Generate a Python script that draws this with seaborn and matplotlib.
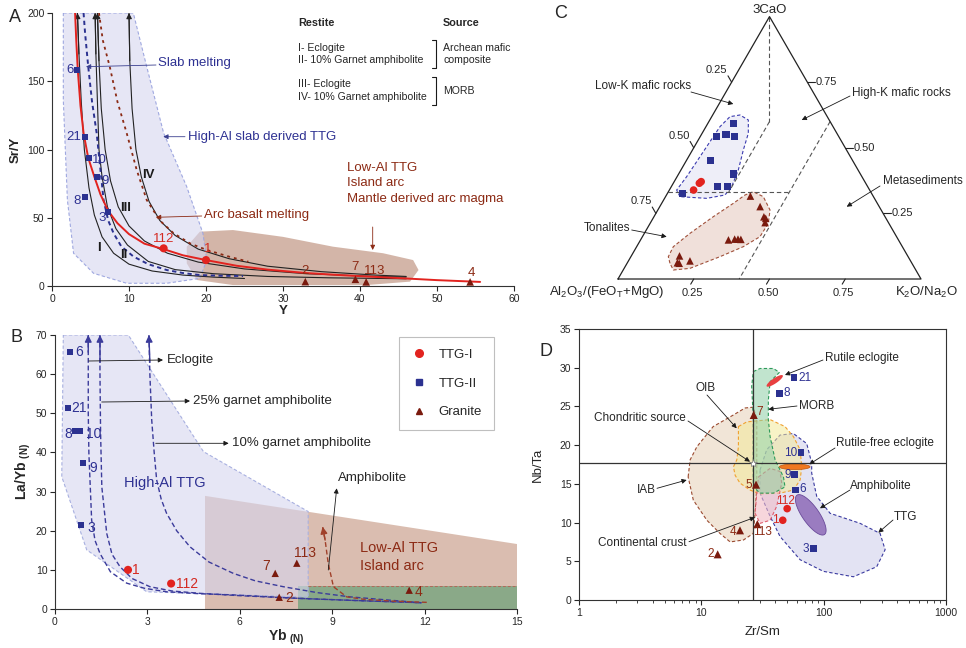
import numpy as np
import pandas as pd
import matplotlib
matplotlib.use("Agg")
import matplotlib.pyplot as plt
import seaborn as sns
from matplotlib.lines import Line2D
from matplotlib.patches import Polygon
from matplotlib.ticker import FixedLocator, LogLocator, NullFormatter

# ====================== DATA ======================
# Panel A : Sr/Y vs Y
a_ttg1_lab = ['112', '1']
a_ttg1_y = [14.5, 20.0]
a_ttg1_sry = [27.6, 19.0]
a_ttg2_lab = ['6', '21', '10', '9', '8', '3']
a_ttg2_y = [3.3, 4.3, 4.8, 5.9, 4.3, 7.3]
a_ttg2_sry = [158, 109, 94, 80, 65, 54]
a_gra_lab = ['2', '7', '113', '4']
a_gra_y = [32.9, 39.4, 40.8, 54.3]
a_gra_sry = [3.2, 4.9, 3.0, 3.0]

# Panel A model curves
curve_red_x = [3.0, 3.15, 3.35, 3.7, 4.1, 4.7, 5.5, 6.3, 7.3, 8.5, 10, 12, 14.5, 17, 20, 24, 28, 33, 38, 45, 50, 55.6]
curve_red_y = [200, 180, 158, 132, 112, 94, 80, 67, 55, 46, 38, 31, 27, 22.5, 19, 14.8, 12, 9.5, 7.8, 5.8, 4.3, 3.0]
curve_I_x = [3.3, 3.5, 3.8, 4.2, 4.8, 5.5, 6.5, 8, 10, 13, 17, 21, 25]
curve_I_y = [200, 170, 135, 100, 72, 52, 36, 24, 16, 11, 8, 6.5, 5.5]
curve_II_x = [5.6, 5.7, 5.9, 6.1, 6.5, 7.2, 8.3, 9.8, 12.5, 16, 21, 28, 36, 46]
curve_II_y = [200, 170, 135, 100, 80, 58, 42, 30, 18, 12, 9, 7, 6, 5.3]
curve_III_x = [5.9, 6.1, 6.4, 6.9, 7.6, 8.6, 10, 12, 15, 19, 25, 33, 42, 46]
curve_III_y = [200, 165, 130, 100, 77, 58, 44, 33, 24, 17.5, 12.5, 9, 7, 6.5]
curve_IV_x = [10, 10.1, 10.4, 10.9, 11.6, 12.6, 14, 16, 19, 23, 28, 35, 42, 46]
curve_IV_y = [200, 165, 130, 100, 80, 62, 48, 37, 27, 20, 14.5, 10.5, 8, 7]
curve_slab_x = [4.1, 4.3, 4.7, 5.2, 5.8, 6.2, 6.7, 7.3, 8, 9, 10.6, 12.5, 14.9, 17, 19.2, 22, 24.8]
curve_slab_y = [200, 185, 161, 135, 112, 90, 63, 48, 38.6, 29, 21.5, 16, 11.7, 9.5, 8, 7.5, 7.3]
curve_arc_x = [6.1, 6.6, 7.5, 8.5, 9.7, 11, 12.3, 14, 15.8, 18, 20.1, 23, 25.5]
curve_arc_y = [200, 180, 160.7, 135, 112, 85, 63, 48, 38.6, 31, 26.4, 21.5, 17.8]
regA_high_x = [1.47, 10.56, 12.3, 14.5, 17.5, 19.6, 20.1, 19.2, 14.9, 9.7, 5.4, 2.8, 2.0, 1.47]
regA_high_y = [200, 200, 160.7, 112, 72.7, 38.6, 19, 5.6, 2, 2, 9.3, 24, 63, 136]
regA_low_x = [17.5, 19.2, 23.5, 30, 36.5, 43, 46.9, 47.6, 46.5, 40.9, 23.5, 18.8, 17.5]
regA_low_y = [28.8, 39.8, 41, 36, 28.8, 24, 19, 11.7, 3.2, 0.7, 0.7, 4.4, 16.6]

# Panel B : La/Yb(N) vs Yb(N)
b_ttg1_lab = ['1', '112']
b_ttg1_yb = [2.37, 3.77]
b_ttg1_layb = [10.0, 6.5]
b_ttg2_lab = ['6', '21', '8', '10', '9', '3']
b_ttg2_yb = [0.49, 0.42, 0.64, 0.81, 0.92, 0.85]
b_ttg2_layb = [65.7, 51.3, 45.5, 45.5, 37.2, 21.4]
b_gra_lab = ['7', '113', '2', '4']
b_gra_yb = [7.15, 7.85, 7.28, 11.5]
b_gra_layb = [9.1, 11.7, 3.0, 4.8]
curve_ecl_x = [1.08, 1.08, 1.08, 1.10, 1.19, 1.3, 1.46, 1.8, 2.33, 2.9, 3.62, 4.7, 5.79, 7.95, 10, 11.9]
curve_ecl_y = [70, 62.6, 50, 39.8, 22.7, 17.5, 14.2, 9.5, 6.6, 5.3, 4.4, 3.9, 3.6, 2.7, 2.1, 1.6]
curve_g25_x = [1.46, 1.46, 1.48, 1.52, 1.68, 1.85, 2.11, 2.5, 3.08, 3.8, 4.71, 6, 7.95, 10, 11.9]
curve_g25_y = [70, 60, 45, 31.2, 19.3, 14, 10.8, 7.8, 5.7, 4.6, 4.0, 3.4, 2.7, 2.1, 1.6]
curve_g10_x = [3.05, 3.08, 3.14, 3.22, 3.30, 3.45, 3.62, 3.95, 4.38, 5.0, 5.79, 6.5, 7.41, 8.5, 9.58, 10.8, 11.9]
curve_g10_y = [70, 60, 48.3, 40, 33, 28, 24.5, 20, 15.9, 12, 9.1, 7.2, 5.7, 4.2, 3.1, 2.3, 1.6]
curve_amp_x = [12.07, 11, 10, 9.47, 9.04, 8.87, 8.77, 8.69]
curve_amp_y = [1.7, 2.0, 2.5, 3.1, 5.7, 11.7, 17.6, 21]
regB_high_x = [0.27, 2.38, 4.82, 8.22, 8.22, 2.98, 1.03, 0.22]
regB_high_y = [70, 70, 40.2, 24.9, 3.0, 4.4, 15.1, 33.8]
regB_low_x = [4.87, 4.87, 15, 15]
regB_low_y = [0, 28.9, 16.6, 0]
regB_green_x = [7.9, 7.9, 15, 15]
regB_green_y = [0, 6.0, 6.0, 0]

# Panel C : ternary (3CaO, K2O/Na2O fractions; Al2O3/(FeOT+MgO) = remainder)
c_ttg2_ca = [0.593, 0.542, 0.549, 0.542, 0.450, 0.400, 0.352, 0.354, 0.327]
c_ttg2_k = [0.085, 0.055, 0.082, 0.115, 0.079, 0.180, 0.151, 0.185, 0.050]
c_ttg1_ca = [0.371, 0.365, 0.339]
c_ttg1_k = [0.089, 0.086, 0.080]
c_gra_ca = [0.316, 0.276, 0.237, 0.231, 0.215, 0.149, 0.152, 0.152, 0.151, 0.088, 0.062, 0.060, 0.069]
c_gra_k = [0.279, 0.331, 0.363, 0.372, 0.378, 0.290, 0.309, 0.320, 0.330, 0.159, 0.165, 0.172, 0.203]
c_ticks = [0.25, 0.50, 0.75]

# Panel D : Nb/Ta vs Zr/Sm
d_ttg1_lab = ['112', '1']
d_ttg1_zrsm = [50.3, 46.3]
d_ttg1_nbta = [11.8, 10.3]
d_ttg2_lab = ['21', '8', '10', '9', '6', '3']
d_ttg2_zrsm = [57.3, 43.4, 65.3, 58.0, 58.7, 82.4]
d_ttg2_nbta = [28.7, 26.7, 19.0, 16.2, 14.2, 6.6]
d_gra_lab = ['7', '5', '113', '4', '2']
d_gra_zrsm = [26.8, 28.0, 28.7, 20.7, 13.6]
d_gra_nbta = [23.9, 14.9, 9.8, 9.0, 5.9]
d_chondrite = (26.6, 17.7)
regD_iab_x = [7.8, 8.1, 9.2, 12.5, 18.3, 22.8, 26.6, 28.4, 28.4, 28.4, 27.5, 26.6, 22.1, 17.2, 14.2, 11.1, 8.6]
regD_iab_y = [15.9, 18.1, 19.8, 22.4, 23.9, 24.8, 24.9, 23.3, 18.9, 14.6, 11.2, 8.6, 7.75, 7.5, 8.6, 10.3, 12.9]
regD_ttg_x = [30.2, 34.2, 44.0, 56.6, 72.7, 79.8, 79.8, 87.7, 112.8, 198.5, 289, 318, 271.5, 175, 99.5, 64.2, 44.0, 36.5, 30.2]
regD_ttg_y = [16.8, 19.4, 21.3, 21.5, 20.2, 17.7, 16.4, 13.4, 11.2, 9.9, 8.6, 6.5, 4.3, 3.0, 3.7, 5.2, 8.2, 10.8, 13.8]
regD_oib_x = [20.1, 23.5, 36.5, 48.3, 56.6, 64.2, 66.2, 64.2, 56.6, 44.0, 30.2, 25.0, 20.7, 18.9, 18.3, 19.5, 20.1]
regD_oib_y = [22.4, 23.0, 23.3, 22.4, 21.1, 19.4, 17.2, 15.5, 14.2, 13.8, 13.7, 14.2, 15.1, 16.1, 17.2, 18.1, 19.8]
regD_morb_x = [26.6, 30.2, 38.8, 43.5, 36.5, 35.3, 35.3, 36.5, 40.1, 46.9, 48.3, 38.8, 30.2, 26.6, 26.6, 26.6, 25.8]
regD_morb_y = [29.5, 29.9, 29.9, 29.4, 28.2, 25.8, 23.3, 21.1, 18.1, 15.9, 14.6, 13.8, 13.8, 14.6, 16.8, 23.3, 27.6]
regD_cc_x = [29.3, 36.5, 44.0, 45.4, 41.3, 36.5, 30.2, 27.5, 28.4]
regD_cc_y = [15.9, 17.0, 16.6, 15.1, 12.1, 10.3, 9.9, 11.2, 13.8]

# ====================== STYLE ======================
sns.set_theme(style="ticks")
plt.rcParams['font.family'] = ['Liberation Sans', 'DejaVu Sans']
plt.rcParams['mathtext.fontset'] = 'custom'
plt.rcParams['mathtext.rm'] = 'Liberation Sans'
plt.rcParams['mathtext.it'] = 'Liberation Sans:italic'
plt.rcParams['mathtext.bf'] = 'Liberation Sans:bold'

BLUE = '#2b3190'
RED = '#e2231f'
BROWN = '#7a1a0e'
TBLUE = '#2e3192'
TRED = '#d42a22'
TBROWN = '#8c2a14'
W, H = 966, 648

fig = plt.figure(figsize=(9.66, 6.48), dpi=100)


def fpx(px, py):
    return (px, H - py)


def ftext(px, py, s, **kw):
    kw.setdefault('va', 'center')
    fig.text(px / W, 1 - py / H, s, **kw)


def farrow(ax, p_from, p_to, color='k', lw=0.6, ms=7):
    ax.annotate('', xy=fpx(*p_to), xycoords='figure pixels', xytext=fpx(*p_from),
                textcoords='figure pixels', annotation_clip=False,
                arrowprops=dict(arrowstyle='-|>', color=color, lw=lw, mutation_scale=ms,
                                shrinkA=0, shrinkB=0))


def scatter(ax, x, y, marker, color, s, z=6):
    df = pd.DataFrame({'x': x, 'y': y})
    sns.scatterplot(data=df, x='x', y='y', marker=marker, color=color, s=s,
                    linewidth=0, edgecolor='none', ax=ax, legend=False, zorder=z)


def labels(ax, x, y, labs, offs, color, fs=9):
    for xi, yi, l, (dx, dy, ha) in zip(x, y, labs, offs):
        ax.annotate(l, (xi, yi), xytext=(dx, dy), textcoords='offset pixels', ha=ha,
                    va='center', color=color, fontsize=fs, zorder=7)


def style_lb(ax):
    sns.despine(ax=ax)
    ax.tick_params(direction='out', length=3.5, width=0.8, labelsize=7.5, pad=2)
    for sp in ['left', 'bottom']:
        ax.spines[sp].set_linewidth(0.8)
        ax.spines[sp].set_color('#333333')


# ====================== PANEL A ======================
axA = fig.add_axes([52 / W, 1 - 286 / H, 462 / W, 273 / H])
axA.set_xlim(0, 60)
axA.set_ylim(0, 200)
axA.add_patch(Polygon(np.column_stack([regA_low_x, regA_low_y]), closed=True,
                      fc='#c9a393', ec='none', alpha=0.8, zorder=1))
axA.add_patch(Polygon(np.column_stack([regA_high_x, regA_high_y]), closed=True,
                      fc='#d6d6ef', ec='none', alpha=0.6, zorder=1.5))
axA.add_patch(Polygon(np.column_stack([regA_high_x, regA_high_y]), closed=True,
                      fc='none', ec='#9fa8e0', lw=0.8, ls=(0, (3, 2)), zorder=1.6))
for cx, cy in [(curve_I_x, curve_I_y), (curve_II_x, curve_II_y),
               (curve_III_x, curve_III_y), (curve_IV_x, curve_IV_y)]:
    axA.plot(cx, cy, color='#222222', lw=0.8, zorder=3)
    axA.annotate('', xy=(cx[0], cy[0]), xytext=(cx[1], cy[1]), annotation_clip=False,
                 arrowprops=dict(arrowstyle='-|>', color='#222222', lw=0.8, mutation_scale=8,
                                 shrinkA=0, shrinkB=0), zorder=3)
axA.plot(curve_slab_x, curve_slab_y, color='#2b3190', lw=1.4, ls=(0, (2.2, 1.8)), zorder=3)
axA.plot(curve_arc_x, curve_arc_y, color='#8b2a14', lw=1.3, ls=(0, (1.6, 2.2)), zorder=3)
axA.plot(curve_red_x, curve_red_y, color='#e2231f', lw=1.4, zorder=4)

scatter(axA, a_ttg2_y, a_ttg2_sry, 's', BLUE, 18)
scatter(axA, a_ttg1_y, a_ttg1_sry, 'o', RED, 34)
scatter(axA, a_gra_y, a_gra_sry, '^', BROWN, 30)
labels(axA, a_ttg2_y, a_ttg2_sry, a_ttg2_lab,
       [(-4, 0, 'right'), (-4, 0, 'right'), (3, -2, 'left'), (4, -4, 'left'),
        (-4, -4, 'right'), (-2, -6, 'right')], TBLUE, 9.5)
labels(axA, a_ttg1_y, a_ttg1_sry, a_ttg1_lab, [(0, 9, 'center'), (2, 11, 'center')], TRED, 9.5)
labels(axA, a_gra_y, a_gra_sry, a_gra_lab,
       [(0, 11, 'center'), (0, 12, 'center'), (8, 11, 'center'), (1, 9, 'center')], TBROWN, 9.5)

style_lb(axA)
axA.set_xticks(range(0, 61, 10))
axA.set_yticks(range(0, 201, 50))
axA.set_xlabel('Y', fontsize=9.5, fontweight='bold', labelpad=1)
axA.set_ylabel('Sr/Y', fontsize=9.5, fontweight='bold', labelpad=4)

ftext(15, 18, 'A', fontsize=13, ha='center')
for txt, x, y, c in [('I', 99.3, 248.3, 'k'), ('II', 124, 255, 'k'), ('III', 126, 208.3, 'k'),
                     ('IV', 148, 175, 'k')]:
    ftext(x, y, txt, fontsize=9.5, fontweight='bold', color=c, ha='center')
ftext(158.3, 63, 'Slab melting', fontsize=9.5, color=TBLUE, ha='left')
farrow(axA, (156, 65), (86, 66.7), color='#3a3f8f')
ftext(188.3, 137, 'High-Al slab derived TTG', fontsize=9.5, color=TBLUE, ha='left')
farrow(axA, (185, 136.7), (163.3, 136.7), color='#3a3f8f')
ftext(204, 215, 'Arc basalt melting', fontsize=9.5, color=TBROWN, ha='left')
farrow(axA, (201.7, 216), (156, 217.3), color=TBROWN)
for i, t in enumerate(['Low-Al TTG', 'Island arc', 'Mantle derived arc magma']):
    ftext(346.7, 168 + 15.5 * i, t, fontsize=9.5, color=TBROWN, ha='left')
farrow(axA, (372.7, 227), (372.7, 250), color=TBROWN)

ftext(298, 23, 'Restite', fontsize=7.8, fontweight='bold', ha='left')
ftext(443, 23, 'Source', fontsize=7.8, fontweight='bold', ha='left')
ftext(298, 48, 'I- Eclogite', fontsize=7.6, ha='left')
ftext(298, 60, 'II- 10% Garnet amphibolite', fontsize=7.6, ha='left')
ftext(443, 48, 'Archean mafic', fontsize=7.6, ha='left')
ftext(443, 60, 'composite', fontsize=7.6, ha='left')
ftext(298, 84, 'III- Eclogite', fontsize=7.6, ha='left')
ftext(298, 97, 'IV- 10% Garnet amphibolite', fontsize=7.6, ha='left')
ftext(443, 91, 'MORB', fontsize=7.6, ha='left')
for y0, y1 in [(40, 68), (77, 105)]:
    fig.add_artist(Line2D(np.array([432, 436, 436, 432]) / W,
                          1 - np.array([y0, y0, y1, y1]) / H, color='k', lw=0.8,
                          transform=fig.transFigure))

# ====================== PANEL B ======================
axB = fig.add_axes([55 / W, 1 - 609 / H, 462 / W, 274 / H])
axB.set_xlim(0, 15)
axB.set_ylim(0, 70)
axB.add_patch(Polygon(np.column_stack([regB_low_x, regB_low_y]), closed=True,
                      fc='#d4b2a2', ec='none', alpha=0.85, zorder=1))
axB.add_patch(Polygon(np.column_stack([regB_green_x, regB_green_y]), closed=True,
                      fc='#86a886', ec='none', alpha=0.95, zorder=1.2))
axB.plot([8.22, 15], [6.0, 6.0], color='#b06a5a', lw=0.7, ls=(0, (3, 2)), zorder=1.3)
axB.add_patch(Polygon(np.column_stack([regB_high_x, regB_high_y]), closed=True,
                      fc='#d6d6ef', ec='none', alpha=0.6, zorder=1.5))
axB.add_patch(Polygon(np.column_stack([regB_high_x, regB_high_y]), closed=True,
                      fc='none', ec='#a8b0e0', lw=0.8, ls=(0, (3, 2)), zorder=1.6))
for cx, cy in [(curve_ecl_x, curve_ecl_y), (curve_g25_x, curve_g25_y), (curve_g10_x, curve_g10_y)]:
    axB.plot(cx, cy, color='#3b3b9b', lw=1.0, ls=(0, (3.5, 2)), zorder=3)
    axB.annotate('', xy=(cx[0], cy[0]), xytext=(cx[1], cy[1] + 3), annotation_clip=False,
                 arrowprops=dict(arrowstyle='-|>', color='#3b3b9b', lw=1.0, mutation_scale=10,
                                 shrinkA=0, shrinkB=0), zorder=3)
axB.plot(curve_amp_x, curve_amp_y, color='#a0402a', lw=1.0, ls=(0, (3.5, 2)), zorder=3)
axB.annotate('', xy=(curve_amp_x[-1], curve_amp_y[-1]), xytext=(curve_amp_x[-2], curve_amp_y[-2]),
             arrowprops=dict(arrowstyle='-|>', color='#a0402a', lw=1.0, mutation_scale=10,
                             shrinkA=0, shrinkB=0), zorder=3)

scatter(axB, b_ttg2_yb, b_ttg2_layb, 's', BLUE, 18)
scatter(axB, b_ttg1_yb, b_ttg1_layb, 'o', RED, 34)
scatter(axB, b_gra_yb, b_gra_layb, '^', BROWN, 28)
labels(axB, b_ttg2_yb, b_ttg2_layb, b_ttg2_lab,
       [(5, 0, 'left'), (3, 0, 'left'), (-3, -3, 'right'), (6, -3, 'left'),
        (6, -5, 'left'), (6, -3, 'left')], TBLUE, 10)
labels(axB, b_ttg1_yb, b_ttg1_layb, b_ttg1_lab, [(4, 0, 'left'), (5, 0, 'left')], TRED, 10)
labels(axB, b_gra_yb, b_gra_layb, b_gra_lab,
       [(-5, 7, 'right'), (8, 10, 'center'), (6, -1, 'left'), (5, -2, 'left')], TBROWN, 10)

style_lb(axB)
axB.set_xticks(range(0, 16, 3))
axB.set_yticks(range(0, 71, 10))
axB.set_xlabel(r'Yb $_{\mathbf{(N)}}$', fontsize=10, fontweight='bold', labelpad=1)
axB.set_ylabel(r'La/Yb $_{\mathbf{(N)}}$', fontsize=10, fontweight='bold', labelpad=2)

ftext(16, 337, 'B', fontsize=13, ha='center')
ftext(166.7, 360, 'Eclogite', fontsize=9.5, ha='left')
farrow(axB, (88.7, 361), (163, 360))
ftext(193.3, 401, '25% garnet amphibolite', fontsize=9.5, ha='left')
farrow(axB, (101.7, 402), (190, 401))
ftext(231.7, 443.3, '10% garnet amphibolite', fontsize=9.5, ha='left')
farrow(axB, (155.7, 443.3), (228.7, 443.3))
ftext(124, 483.3, 'High-Al TTG', fontsize=10.5, color=TBLUE, ha='left')
ftext(360, 548.3, 'Low-Al TTG', fontsize=10.5, color=TBROWN, ha='left')
ftext(360, 566, 'Island arc', fontsize=10.5, color=TBROWN, ha='left')
ftext(338.3, 478.3, 'Amphibolite', fontsize=9.5, ha='left')
farrow(axB, (328.3, 570), (336.7, 488.3))

handles = [Line2D([], [], marker='o', color=RED, ls='', ms=5.5),
           Line2D([], [], marker='s', color=BLUE, ls='', ms=4.5),
           Line2D([], [], marker='^', color=BROWN, ls='', ms=5)]
leg = axB.legend(handles, ['TTG-I', 'TTG-II', 'Granite'], loc='upper left',
                 bbox_to_anchor=(0.745, 0.993), frameon=True, fancybox=False,
                 fontsize=9.5, labelspacing=1.25, handletextpad=0.9, borderpad=0.9,
                 handlelength=1.2, borderaxespad=0)
leg.get_frame().set_edgecolor('#b0b0b0')
leg.get_frame().set_linewidth(0.8)

# ====================== PANEL C ======================
axC = fig.add_axes([540 / W, 1 - 310 / H, 426 / W, 310 / H])
axC.set_xlim(-0.2574, 1.1485)
axC.set_ylim(-0.1023, 0.9208)
axC.axis('off')
S3 = np.sqrt(3) / 2


def tern(ca, k):
    ca = np.asarray(ca, float)
    k = np.asarray(k, float)
    return k + ca / 2, ca * S3


axC.plot([0, 1, 0.5, 0], [0, 0, S3, 0], color='#222222', lw=0.9, zorder=3)
# boundary lines
for (ca0, k0), (ca1, k1) in [((1.0, 0.0), (0.6, 0.2)), ((0.6, 0.2), (0.33, 0.2)),
                             ((0.33, 0.0), (0.33, 0.40)), ((0.6, 0.4), (0.0, 0.4))]:
    xs, ys = tern([ca0, ca1], [k0, k1])
    axC.plot(xs, ys, color='#555555', lw=0.8, ls=(0, (4, 2.5)), zorder=2)
# fields
blob_blue = np.array([(.2046, .2717), (.1936, .2937), (.2266, .3377), (.2926, .4367), (.3366, .5028),
                      (.3696, .5358), (.4026, .5413), (.4301, .5248), (.4301, .4807), (.4136, .4257),
                      (.3971, .3597), (.3751, .3047), (.3531, .2772), (.2926, .2662)])
blob_brown = np.array([(.1716, .0517), (.1661, .0737), (.1826, .1067), (.2376, .1507), (.3146, .2057),
                       (.3806, .2497), (.4191, .2772), (.4466, .2882), (.4796, .2717), (.5017, .2277),
                       (.4961, .1837), (.4686, .1397), (.4136, .1067), (.3366, .0737), (.2376, .0352),
                       (.1826, .0297)])
axC.add_patch(Polygon(blob_blue, closed=True, fc='#eeeef8', ec='#3b3bb0', lw=0.8,
                      ls=(0, (3, 2)), zorder=1))
axC.add_patch(Polygon(blob_brown, closed=True, fc='#f0e0da', ec='#a0503a', lw=0.8,
                      ls=(0, (3, 2)), zorder=1))
xb, yb = tern(c_ttg2_ca, c_ttg2_k)
scatter(axC, xb, yb, 's', BLUE, 26)
xr, yr = tern(c_ttg1_ca, c_ttg1_k)
scatter(axC, xr, yr, 'o', RED, 30)
xg, yg = tern(c_gra_ca, c_gra_k)
scatter(axC, xg, yg, '^', BROWN, 30)
axC.set_xlabel('')
axC.set_ylabel('')
# ticks
for v in c_ticks:
    # left edge (Al fraction counted from apex)
    px, py = 0.5 - 0.5 * v, S3 * (1 - v)
    axC.plot([px, px - 0.012], [py, py + 0.021], color='#222222', lw=0.8)
    axC.text(px - 0.014, py + 0.024, f'{v:.2f}', ha='right', va='bottom', fontsize=8)
    # right edge (CaO fraction)
    ca = 1 - v
    qx, qy = 1 - ca / 2, S3 * ca
    axC.plot([qx, qx + 0.025], [qy, qy], color='#222222', lw=0.8)
    axC.text(qx + 0.028, qy, f'{ca:.2f}', ha='left', va='center', fontsize=8)
    # bottom edge (K fraction)
    axC.plot([v, v - 0.01], [0, -0.017], color='#222222', lw=0.8)
    axC.text(v - 0.005, -0.045, f'{v:.2f}', ha='center', va='center', fontsize=8)
axC.text(0.4993, 0.8878, '3CaO', ha='center', va='center', fontsize=9.5)
axC.text(-0.0373, -0.0429, r'Al$_2$O$_3$/(FeO$_\mathrm{T}$+MgO)', ha='center', va='center', fontsize=9.5)
axC.text(1.0188, -0.0429, r'K$_2$O/Na$_2$O', ha='center', va='center', fontsize=9.5)
ftext(561, 14, 'C', fontsize=13, ha='center')
ftext(595, 86, 'Low-K mafic rocks', fontsize=8.5, ha='left')
farrow(axC, (691, 92), (733.3, 104))
ftext(852, 93.3, 'High-K mafic rocks', fontsize=8.5, ha='left')
farrow(axC, (850, 96), (801.7, 120))
ftext(883, 180.7, 'Metasediments', fontsize=8.5, ha='left')
farrow(axC, (880, 186), (846.7, 206.7))
ftext(584, 228.3, 'Tonalites', fontsize=8.5, ha='left')
farrow(axC, (631.7, 230), (666.7, 236.7))

# ====================== PANEL D ======================
axD = fig.add_axes([579 / W, 1 - 600 / H, 367 / W, 271 / H])
axD.set_xscale('log')
axD.set_xlim(1, 1000)
axD.set_ylim(0, 35)


def region(ax, xs, ys, fc, ec, alpha, z):
    pts = np.column_stack([xs, ys])
    ax.add_patch(Polygon(pts, closed=True, fc=fc, ec='none', alpha=alpha, zorder=z))
    ax.add_patch(Polygon(pts, closed=True, fc='none', ec=ec, lw=0.8, ls=(0, (3, 2)), zorder=z + 0.05))


region(axD, regD_iab_x, regD_iab_y, '#efe1d0', '#9b4a30', 0.85, 1.0)
region(axD, regD_ttg_x, regD_ttg_y, '#d8d8ee', '#3a3aa0', 0.7, 1.1)
region(axD, regD_oib_x, regD_oib_y, '#f4ea9a', '#f0a030', 0.55, 1.2)
region(axD, regD_cc_x, regD_cc_y, '#f2bcc6', '#e06070', 0.6, 1.3)
region(axD, regD_morb_x, regD_morb_y, '#8fcfa6', '#2e9a5a', 0.55, 1.4)


def screen_ellipse(ax, xc, yc, a_px, b_px, ang_deg, n=90):
    cx, cy = ax.transData.transform((xc, yc))
    t = np.linspace(0, 2 * np.pi, n)
    th = np.deg2rad(ang_deg)
    ex, ey = a_px * np.cos(t), b_px * np.sin(t)
    X = cx + ex * np.cos(th) - ey * np.sin(th)
    Y = cy + ex * np.sin(th) + ey * np.cos(th)
    return ax.transData.inverted().transform(np.column_stack([X, Y]))


axD.add_patch(Polygon(screen_ellipse(axD, 78.4, 11.0, 24, 8.3, -55), closed=True,
                      fc='#9a7cc0', ec='#6a4a9a', lw=0.6, zorder=2))
axD.add_patch(Polygon(screen_ellipse(axD, 39.8, 28.3, 9.7, 2.6, 34), closed=True,
                      fc='#e84040', ec='none', zorder=2))
axD.add_patch(Polygon(screen_ellipse(axD, 58.0, 17.2, 15.3, 2.8, 0), closed=True,
                      fc='#f07820', ec='#c05810', lw=0.5, zorder=2))
axD.axvline(26.6, color='#333333', lw=0.9, zorder=2.5)
axD.axhline(17.7, color='#333333', lw=0.9, zorder=2.5)
axD.plot([d_chondrite[0]], [d_chondrite[1]], marker='*', ms=6, mfc='white', mec='#777777',
         mew=0.5, ls='', zorder=6)

scatter(axD, d_ttg2_zrsm, d_ttg2_nbta, 's', BLUE, 24)
scatter(axD, d_ttg1_zrsm, d_ttg1_nbta, 'o', RED, 30)
scatter(axD, d_gra_zrsm, d_gra_nbta, '^', BROWN, 34)
labels(axD, d_ttg2_zrsm, d_ttg2_nbta, d_ttg2_lab,
       [(4, 0, 'left'), (4, 0, 'left'), (-4, 0, 'right'), (-4, 0, 'right'),
        (4, 1, 'left'), (-4, 0, 'right')], TBLUE, 8.5)
labels(axD, d_ttg1_zrsm, d_ttg1_nbta, d_ttg1_lab, [(-2, 8, 'center'), (-4, 0, 'right')], TRED, 8.5)
labels(axD, d_gra_zrsm, d_gra_nbta, d_gra_lab,
       [(3, 3, 'left'), (-4, 0, 'right'), (5, -8, 'center'), (-4, -2, 'right'), (-4, 0, 'right')],
       TBROWN, 8.5)

axD.xaxis.set_major_locator(FixedLocator([1, 10, 100, 1000]))
axD.set_xticklabels(['1', '10', '100', '1000'])
axD.xaxis.set_minor_locator(LogLocator(base=10, subs=np.arange(2, 10)))
axD.xaxis.set_minor_formatter(NullFormatter())
axD.set_yticks(range(0, 36, 5))
axD.tick_params(which='major', direction='out', length=3.5, width=0.8, labelsize=7.5, pad=2)
axD.tick_params(which='minor', direction='out', length=2, width=0.6)
for sp in axD.spines.values():
    sp.set_linewidth(0.8)
    sp.set_color('#333333')
axD.set_xlabel('Zr/Sm', fontsize=9.5, labelpad=6)
axD.set_ylabel('Nb/Ta', fontsize=9.5)
axD.yaxis.set_label_coords(-0.095, 0.5)
ftext(546, 352, 'D', fontsize=13, ha='center')
for txt, x, y, pf, pt in [
        ('Rutile eclogite', 825, 357.7, (823, 360), (785, 375)),
        ('OIB', 695, 387.7, (707, 395), (736.7, 428.3)),
        ('MORB', 799, 406, (797, 406), (768.3, 409.3)),
        ('Chondritic source', 594, 418.3, (688, 421), (750, 461.7)),
        ('Rutile-free eclogite', 836, 442.7, (835, 448), (809.3, 464.3)),
        ('IAB', 637, 490, (657, 488.3), (686.7, 480)),
        ('Amphibolite', 850, 485.7, (850, 490), (820, 508.3)),
        ('TTG', 894, 516.7, (893, 520), (878.3, 532.7)),
        ('Continental crust', 598, 542.7, (689, 541.7), (755, 517.3))]:
    ftext(x, y, txt, fontsize=8.5, ha='left')
    farrow(axD, pf, pt)

fig.savefig('out.png', dpi=100)
